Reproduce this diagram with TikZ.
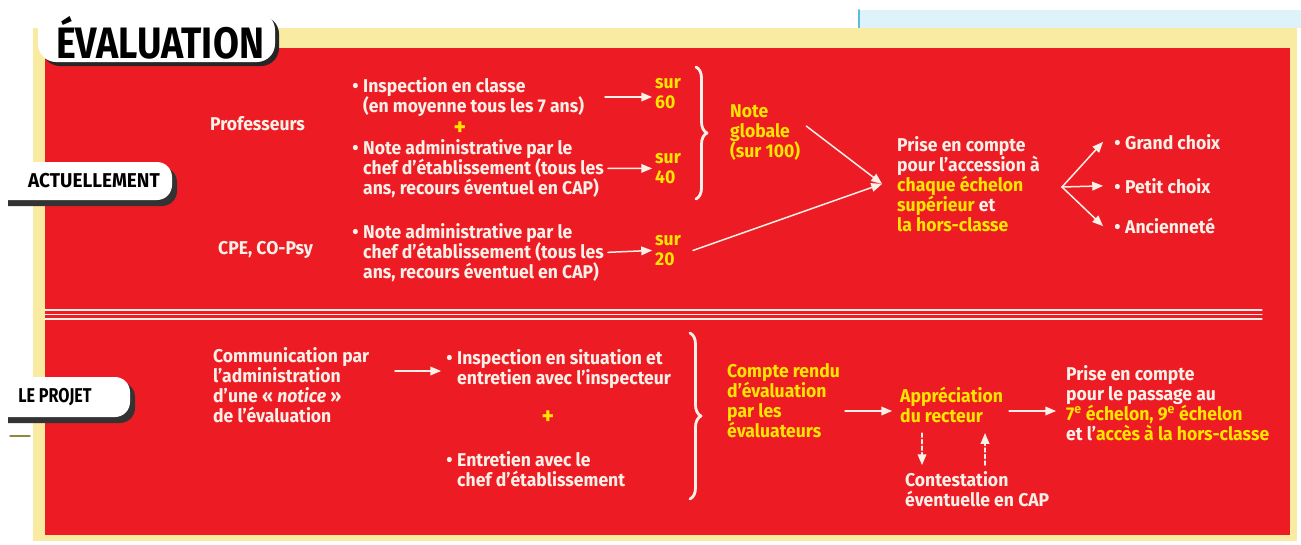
\documentclass[tikz,border=0pt]{standalone}
\usepackage{fontspec}
\usepackage{graphicx}
\setmainfont{Fira Sans}[FakeStretch=0.95]
\usetikzlibrary{arrows,calc,decorations.pathreplacing}
\definecolor{rouge}{rgb}{0.93,0.11,0.14}
\definecolor{jaune}{rgb}{1,0.9,0}
\definecolor{blanc}{rgb}{0.99,0.94,0.91}
\definecolor{paille}{rgb}{0.98,0.92,0.64}
\definecolor{ciel}{rgb}{0.87,0.95,0.98}
\definecolor{trait}{rgb}{0.35,0.75,0.85}
\newcommand{\puce}{\llap{\raisebox{0pt}{\fontsize{19}{19}\selectfont\textbullet}\hspace{4.5pt}}}
\newcommand{\jj}[1]{\textcolor{jaune}{#1}}

\begin{document}
\begin{tikzpicture}[line cap=round,line join=round,>=triangle 45,x=1pt,y=-1pt,
  txt/.style={anchor=north west,align=left,inner sep=0pt,text=blanc,font=\bfseries\fontsize{18.5}{20}\selectfont},
  jtxt/.style={txt,text=jaune},
  plus/.style={text=jaune,inner sep=0pt,text height=8pt,text depth=0pt,font=\bfseries\fontsize{25}{25}\selectfont},
  fleche/.style={->,color=blanc,line width=1.5pt},
  tiret/.style={fleche,dash pattern=on 4pt off 2.5pt},
  accolade/.style={decorate,decoration={brace,amplitude=11pt},color=blanc,line width=2.8pt},
  onglet/.style={inner sep=0pt,text=black,font=\bfseries\fontsize{20}{20}\selectfont}]
\useasboundingbox (0,0) rectangle (1301,544);
% fonds
\fill[white] (0,0) rectangle (1301,544);
\fill[ciel] (860,10) rectangle (1301,28);
\draw[color=trait,line width=2pt] (859,10) -- (859,28);
\fill[paille] (33,28) rectangle (1297,541);
\fill[rouge] (45,48) rectangle (1290,535);
\foreach \y in {310,314.5,319}
  \draw[color=blanc,line width=1.2pt] (45,\y) -- (1262,\y);
% onglets
\fill[black!85,rounded corners=18pt] (42,16) rectangle (279,66);
\fill[white,rounded corners=18pt] (38,12) rectangle (275,62);
\node (titre) at (160,38) {\scalebox{0.9}[1]{\bfseries\fontsize{44}{44}\selectfont ÉVALUATION}};
\begin{scope}
\clip (8,150) rectangle (300,430);
\fill[black!80,rounded corners=15pt] (-20,167) rectangle (177,206);
\fill[white,rounded corners=15pt] (-20,162) rectangle (172,200);
\fill[black!80,rounded corners=15pt] (-20,382) rectangle (135,423);
\fill[white,rounded corners=15pt] (-20,377) rectangle (130,417);
\end{scope}
\draw[color=olive!60!gray,line width=1.5pt] (10,436) -- (30,436);
\node[onglet] (actu) at (94,181) {ACTUELLEMENT};
\node[onglet] (projet) at (55,397) {\scalebox{0.85}[1]{LE PROJET}};
% actuellement
\node[txt] (prof) at (210,116) {Professeurs};
\node[txt] (cpe) at (218,241) {CPE, CO-Psy};
\node[txt] (insp) at (363,77) {\puce Inspection en classe\\(en moyenne tous les 7 ans)};
\node[plus] (plusa) at (460,131) {+};
\node[txt] (notadm) at (363,139) {\puce Note administrative par le\\chef d’établissement (tous les\\ans, recours éventuel en CAP)};
\node[txt] (notcpe) at (363,223) {\puce Note administrative par le\\chef d’établissement (tous les\\ans, recours éventuel en CAP)};
\node[jtxt] (s60) at (655,78) {sur\\60};
\node[jtxt] (s40) at (655,153) {sur\\40};
\node[jtxt] (s20) at (655,235) {sur\\20};
\draw[accolade] (696,67) -- (696,199);
\node[jtxt] (ng) at (730,104) {Note\\globale\\(sur 100)};
\node[txt] (prise) at (897,136) {Prise en compte\\pour l’accession à\\\jj{chaque échelon}\\\jj{supérieur} et\\\jj{la hors-classe}};
\coordinate (fourche) at (1062,187);
\node[txt] (gc) at (1125,134) {\puce Grand choix};
\node[txt] (pc) at (1125,178) {\puce Petit choix};
\node[txt] (anc) at (1125,218) {\puce Ancienneté};
\draw[fleche] (605,97) -- ([xshift=-3pt]s60.west |- 0,97);
\draw[fleche] ([xshift=4pt]notadm.east) -- ([xshift=-3pt]s40.west);
\draw[fleche] ([xshift=4pt]notcpe.east) -- ([xshift=-3pt]s20.west);
\draw[fleche] ($(ng.east)+(6,-6)$) -- ([xshift=-15pt]prise.west);
\draw[fleche] ([xshift=12pt]s20.east) -- ([xshift=-15pt]prise.west);
\draw[fleche] (fourche) -- ([xshift=-22pt]gc.west);
\draw[fleche] (fourche) -- ([xshift=-22pt]pc.west);
\draw[fleche] (fourche) -- ([xshift=-22pt]anc.west);
% le projet
\node[txt] (comm) at (213,347) {Communication par\\l’administration\\d’une « \textit{notice} »\\de l’évaluation};
\node[txt] (inspsit) at (457,349) {\puce Inspection en situation et\\entretien avec l’inspecteur};
\node[plus] (plusb) at (548,420) {+};
\node[txt] (entr) at (457,451) {\puce Entretien avec le\\chef d’établissement};
\draw[accolade] (690,333) -- (690,499);
\node[jtxt] (cr) at (727,363) {Compte rendu\\d’évaluation\\par les\\évaluateurs};
\node[jtxt] (appr) at (900,387) {Appréciation\\du recteur};
\node[txt] (contest) at (905,471) {Contestation\\éventuelle en CAP};
\node[txt] (passage) at (1066,365) {Prise en compte\\pour le passage au\\\jj{7\textsuperscript{e} échelon, 9\textsuperscript{e} échelon}\\et l’\jj{accès à la hors-classe}};
\draw[fleche] (395,371) -- ([xshift=-16pt]inspsit.west |- 0,371);
\draw[fleche] ([xshift=5pt]cr.east |- 0,411) -- ([xshift=-8pt]appr.west |- 0,411);
\draw[fleche] ([xshift=6pt]appr.east |- 0,411) -- ([xshift=-10pt]passage.west |- 0,411);
\draw[tiret] ($(appr.south west)+(22,10)$) -- ($(contest.north west)+(17,-6)$);
\draw[tiret] ($(contest.north west)+(80,-6)$) -- ($(appr.south west)+(85,10)$);
\end{tikzpicture}
\end{document}
